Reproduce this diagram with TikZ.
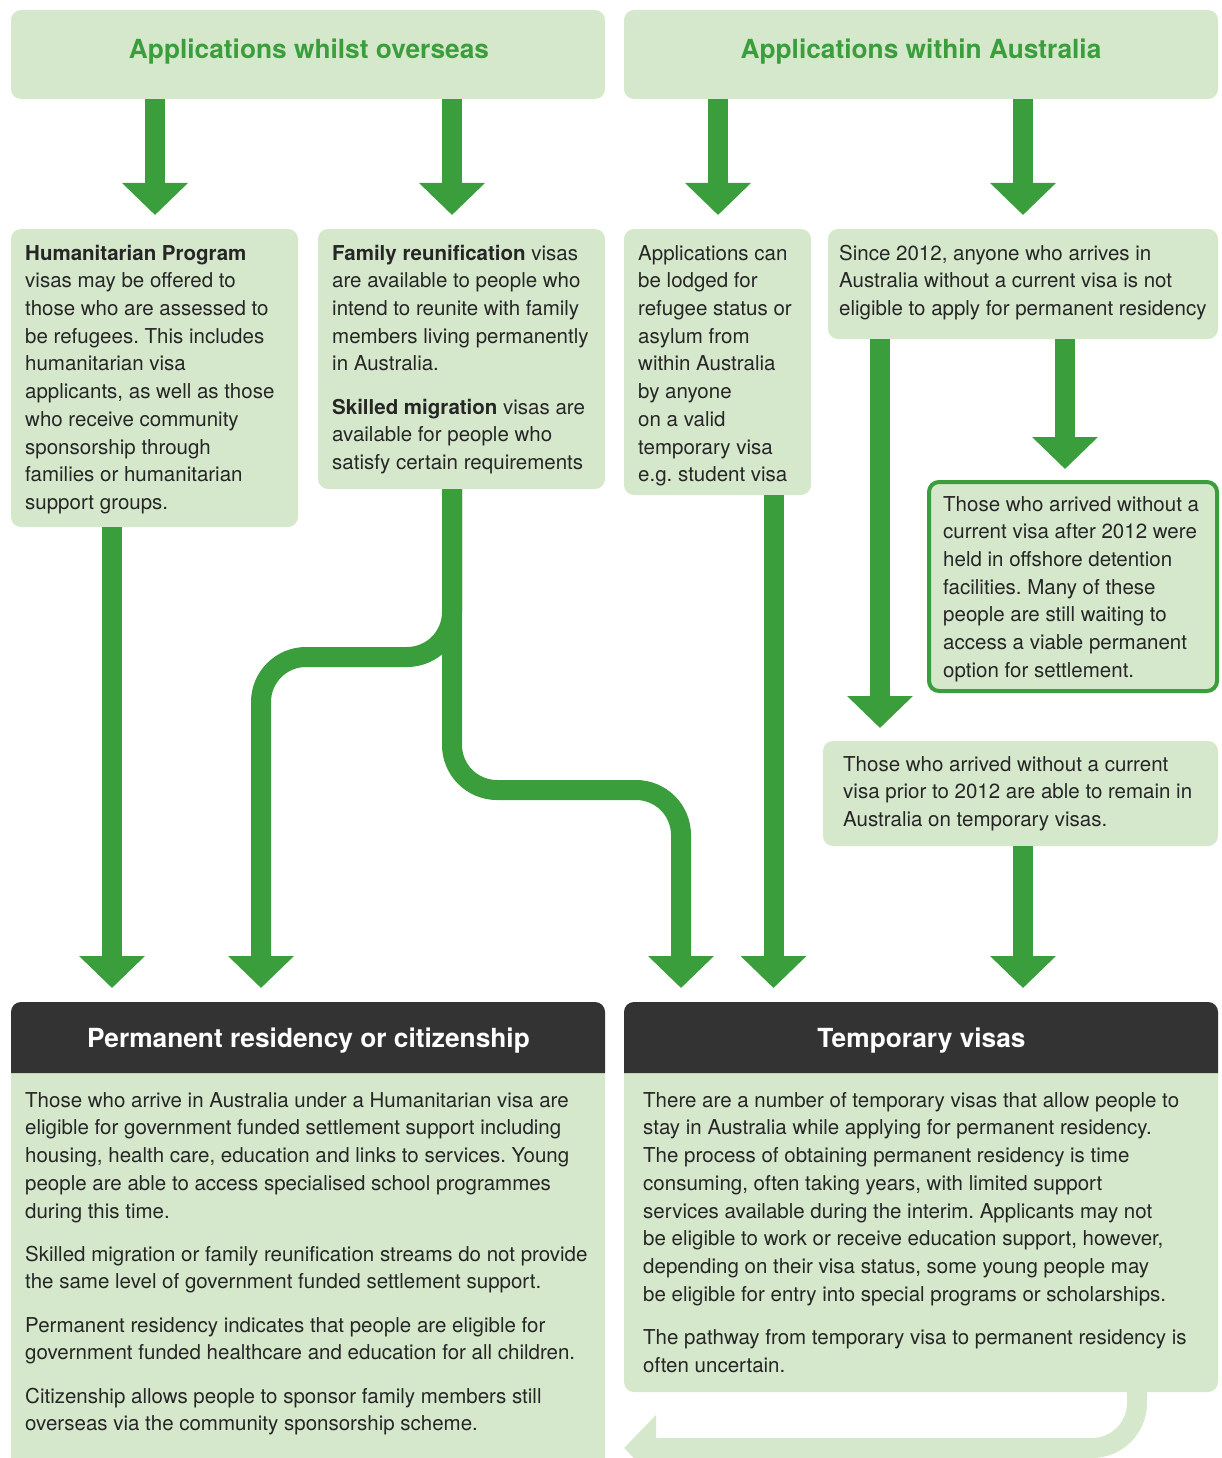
\documentclass[tikz,border=0pt]{standalone}
\usepackage{fontspec}
\setmainfont{TeX Gyre Heros}
\usetikzlibrary{arrows.meta}
\definecolor{agreen}{HTML}{3A9E3C}
\definecolor{lgreen}{HTML}{D5E8CB}
\definecolor{dgray}{HTML}{333333}
\definecolor{txt}{HTML}{262626}
\frenchspacing
\begin{document}
\begin{tikzpicture}[x=1pt,y=-1pt,
  box/.style={fill=lgreen, rounded corners=10pt, inner sep=0pt, outer sep=0pt},
  btxt/.style={anchor=north west, inner sep=0pt, align=left, text=txt, font=\fontsize{20.5}{27.7}\selectfont\frenchspacing},
  htxt/.style={anchor=base, inner sep=0pt, font=\fontsize{26.3}{30}\selectfont\bfseries},
  flow/.style={draw=agreen, line width=20pt, -{Triangle[width=64pt,length=32pt]}},
  retflow/.style={draw=lgreen, line width=20pt, -{Triangle[width=64pt,length=32pt]}}]
\useasboundingbox (0,0) rectangle (1221,1458);
\clip (0,0) rectangle (1221,1458);

% top headers
\node[box, minimum width=594pt, minimum height=89pt] (ov) at (308,54.5) {};
\node[box, minimum width=594pt, minimum height=89pt] (au) at (921,54.5) {};
\node[htxt, text=agreen] (ovt) at (309,59) {Applications whilst overseas};
\node[htxt, text=agreen] (aut) at (921,59) {Applications within Australia};

% middle boxes
\node[box, minimum width=287pt, minimum height=298pt] (hum) at (154.5,378) {};
\node[box, minimum width=287pt, minimum height=260pt] (fam) at (461.5,359) {};
\node[box, minimum width=187pt, minimum height=266pt] (lod) at (717.5,362) {};
\node[box, minimum width=390pt, minimum height=110pt] (since) at (1023,284) {};
\node[box, draw=agreen, line width=4pt, minimum width=288pt, minimum height=209pt] (off) at (1073,586.5) {};
\node[box, minimum width=395pt, minimum height=105pt] (fv) at (1020.5,793.5) {};

% bottom boxes
\node[box, minimum width=594pt, minimum height=470pt] (perm) at (308,1237) {};
\node[box, minimum width=594pt, minimum height=390pt] (temp) at (921,1197) {};
\fill[dgray, rounded corners=10pt] (11,1040) -- (11,1002) -- (605,1002) -- (605,1040) [sharp corners] -- (605,1073) -- (11,1073) -- cycle;
\fill[dgray, rounded corners=10pt] (624,1040) -- (624,1002) -- (1218,1002) -- (1218,1040) [sharp corners] -- (1218,1073) -- (624,1073) -- cycle;
\node[htxt, text=white] (permt) at (308.5,1047) {Permanent residency or citizenship};
\node[htxt, text=white] (tempt) at (921.5,1047) {Temporary visas};

% texts
\node[btxt] (humtxt) at (25,240.6) {\strut\textbf{Humanitarian Program}\\
visas may be offered to\\
those who are assessed to\\
be refugees. This includes\\
humanitarian visa\\
applicants, as well as those\\
who receive community\\
sponsorship through\\
families or humanitarian\\
support groups.};
\node[btxt] (famtxt) at (332,240.6) {\strut\textbf{Family reunification} visas\\
are available to people who\\
intend to reunite with family\\
members living permanently\\
in Australia.\\[15.5pt]
\textbf{Skilled migration} visas are\\
available for people who\\
satisfy certain requirements};
\node[btxt] (lodtxt) at (638,240.6) {\strut Applications can\\
be lodged for\\
refugee status or\\
asylum from\\
within Australia\\
by anyone\\
on a valid\\
temporary visa\\
e.g. student visa};
\node[btxt] (sincetxt) at (839,240.6) {\strut Since 2012, anyone who arrives in\\
Australia without a current visa is not\\
eligible to apply for permanent residency};
\node[btxt] (offtxt) at (943,491.6) {\strut Those who arrived without a\\
current visa after 2012 were\\
held in offshore detention\\
facilities. Many of these\\
people are still waiting to\\
access a viable permanent\\
option for settlement.};
\node[btxt] (fvtxt) at (843,751.6) {\strut Those who arrived without a current\\
visa prior to 2012 are able to remain in\\
Australia on temporary visas.};
\node[btxt] (permtxt) at (25,1087.6) {\strut Those who arrive in Australia under a Humanitarian visa are\\
eligible for government funded settlement support including\\
housing, health care, education and links to services. Young\\
people are able to access specialised school programmes\\
during this time.\\[15.5pt]
Skilled migration or family reunification streams do not provide\\
the same level of government funded settlement support.\\[15.5pt]
Permanent residency indicates that people are eligible for\\
government funded healthcare and education for all children.\\[15.5pt]
Citizenship allows people to sponsor family members still\\
overseas via the community sponsorship scheme.};
\node[btxt] (temptxt) at (643,1087.6) {\strut There are a number of temporary visas that allow people to\\
stay in Australia while applying for permanent residency.\\
The process of obtaining permanent residency is time\\
consuming, often taking years, with limited support\\
services available during the interim. Applicants may not\\
be eligible to work or receive education support, however,\\
depending on their visa status, some young people may\\
be eligible for entry into special programs or scholarships.\\[15.5pt]
The pathway from temporary visa to permanent residency is\\
often uncertain.};

% arrows from top headers
\draw[flow, shorten >=14pt] ([xshift=144pt]ov.south west) -- ([xshift=144pt]ov.south west |- hum.north);
\draw[flow, shorten >=14pt] ([xshift=441pt]ov.south west) -- ([xshift=441pt]ov.south west |- fam.north);
\draw[flow, shorten >=14pt] ([xshift=94pt]au.south west) -- ([xshift=94pt]au.south west |- lod.north);
\draw[flow, shorten >=14pt] ([xshift=399pt]au.south west) -- ([xshift=399pt]au.south west |- since.north);

% middle arrows
\coordinate (j1) at (261,657);
\coordinate (j2) at (681,790);
\draw[flow, shorten >=14pt] ([xshift=101pt]hum.south west) -- ([xshift=101pt]hum.south west |- perm.north);
\draw[flow, shorten >=14pt, rounded corners=45pt] ([xshift=134pt]fam.south west) |- (j1) -- (j1 |- perm.north);
\draw[flow, shorten >=14pt, rounded corners=45pt] ([xshift=134pt]fam.south west) |- (j2) -- (j2 |- temp.north);
\draw[flow, shorten >=14pt] ([xshift=149.5pt]lod.south west) -- ([xshift=149.5pt]lod.south west |- temp.north);
\draw[flow, shorten >=13pt] ([xshift=52pt]since.south west) -- ([xshift=52pt]since.south west |- fv.north);
\draw[flow, shorten >=13pt] ([xshift=237pt]since.south west) -- ([xshift=237pt]since.south west |- off.north);
\draw[flow, shorten >=14pt] ([xshift=200pt]fv.south west) -- ([xshift=200pt]fv.south west |- temp.north);

% return arrow
\coordinate (r1) at (1137,1448);
\draw[retflow, shorten >=19pt, rounded corners=45pt] ([xshift=513pt]temp.south west) -- (r1) -- (r1 -| perm.east);
\end{tikzpicture}
\end{document}
